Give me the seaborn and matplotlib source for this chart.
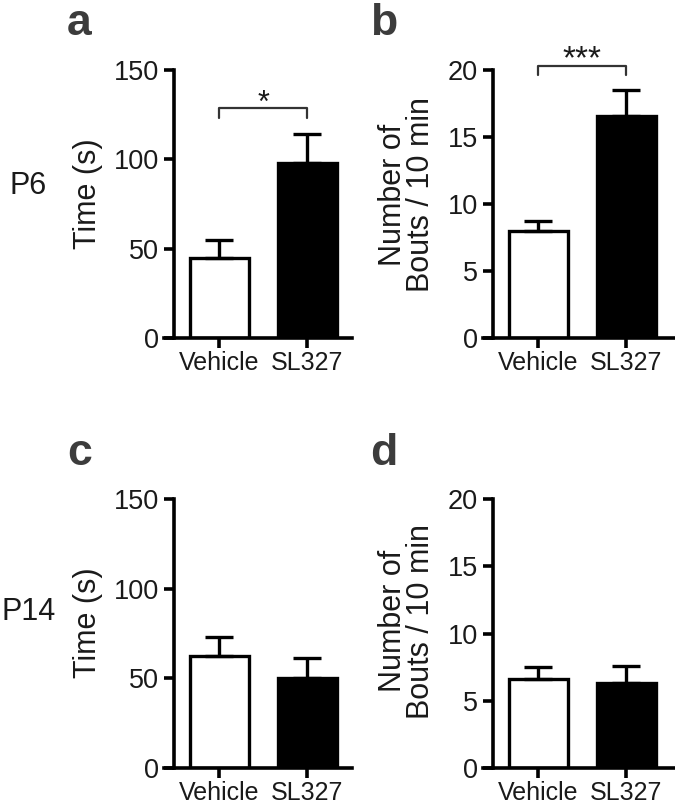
import matplotlib
matplotlib.use("Agg")
import matplotlib.pyplot as plt
import seaborn as sns

# data (mean and upward SEM)
groups = ["Vehicle", "SL327"]
time_p6 = [45.0, 98.0]
time_p6_sem = [10.0, 16.0]
bouts_p6 = [8.0, 16.6]
bouts_p6_sem = [0.7, 1.9]
time_p14 = [62.5, 50.2]
time_p14_sem = [10.5, 11.2]
bouts_p14 = [6.6, 6.3]
bouts_p14_sem = [0.9, 1.3]

time_ticks = [0, 50, 100, 150]
bouts_ticks = [0, 5, 10, 15, 20]

sns.set_style("ticks")
plt.rcParams["font.family"] = ["Liberation Sans", "DejaVu Sans"]
ink = "#1a1a1a"

W, H = 675, 806
fig = plt.figure(figsize=(W / 100, H / 100), dpi=100)


def px_axes(left, right, top, bottom):
    return fig.add_axes([left / W, 1 - bottom / H, (right - left) / W, (bottom - top) / H])


def draw_panel(ax, values, sems, ticks, ylabel, xmax, label_xy):
    sns.barplot(x=groups, y=values, hue=groups, order=groups, hue_order=groups,
                palette={"Vehicle": "white", "SL327": "black"}, saturation=1,
                edgecolor="black", linewidth=2.4, width=0.67, legend=False, ax=ax)
    ax.errorbar([0, 1], values, yerr=[[0, 0], sems], fmt="none", ecolor="black",
                elinewidth=2.4, capsize=10, capthick=2.4, zorder=3)
    ax.set_xlim(-0.625, xmax)
    ax.set_ylim(ticks[0], ticks[-1])
    ax.set_yticks(ticks)
    ax.spines["top"].set_visible(False)
    ax.spines["right"].set_visible(False)
    ax.spines["left"].set_position(("data", -0.51))
    for s in ("left", "bottom"):
        ax.spines[s].set_linewidth(2.6)
        ax.spines[s].set_color("black")
    ax.tick_params(axis="y", length=7, width=2.6, pad=4, labelsize=19.5,
                   color="black", labelcolor=ink)
    ax.tick_params(axis="x", length=7, width=2.6, pad=2, labelsize=18,
                   color="black", labelcolor=ink)
    ax.set_xlabel("")
    ax.set_ylabel(ylabel, fontsize=22, color=ink, ha="center", va="center", linespacing=0.9)
    ax.yaxis.set_label_coords(*label_xy)


def bracket(ax, y, drop, star, star_y, size):
    ax.plot([0, 0, 1, 1], [y - drop, y, y, y - drop], color="#333333", lw=1.6,
            clip_on=False, zorder=4)
    ax.text(0.5, star_y, star, ha="center", va="baseline", fontsize=size,
            color=ink, clip_on=False)


ax_a = px_axes(164, 352, 70, 338)
ax_b = px_axes(483, 675, 70, 338)
ax_c = px_axes(164, 352, 499, 768)
ax_d = px_axes(483, 675, 499, 768)

draw_panel(ax_a, time_p6, time_p6_sem, time_ticks, "Time (s)", 1.51, (-0.404, 0.54))
draw_panel(ax_b, bouts_p6, bouts_p6_sem, bouts_ticks, "Number of\nBouts / 10 min", 1.55, (-0.396, 0.535))
draw_panel(ax_c, time_p14, time_p14_sem, time_ticks, "Time (s)", 1.51, (-0.404, 0.54))
draw_panel(ax_d, bouts_p14, bouts_p14_sem, bouts_ticks, "Number of\nBouts / 10 min", 1.55, (-0.396, 0.546))

bracket(ax_a, 128.7, 5.5, "*", 126.5, 22)
bracket(ax_b, 20.3, 0.7, "***", 20.1, 24)

# panel letters and age labels
for letter, x, y in [("a", 67, 35), ("b", 370, 35), ("c", 67, 465), ("d", 370, 465)]:
    fig.text(x / W, 1 - y / H, letter, fontsize=32, fontweight="bold",
             color="#3c3c3c", ha="left", va="baseline")
fig.text(10 / W, 1 - 186 / H, "P6", fontsize=22, color=ink, ha="left", va="center")
fig.text(2 / W, 1 - 612 / H, "P14", fontsize=22, color=ink, ha="left", va="center")

fig.savefig("out.png", dpi=100)
